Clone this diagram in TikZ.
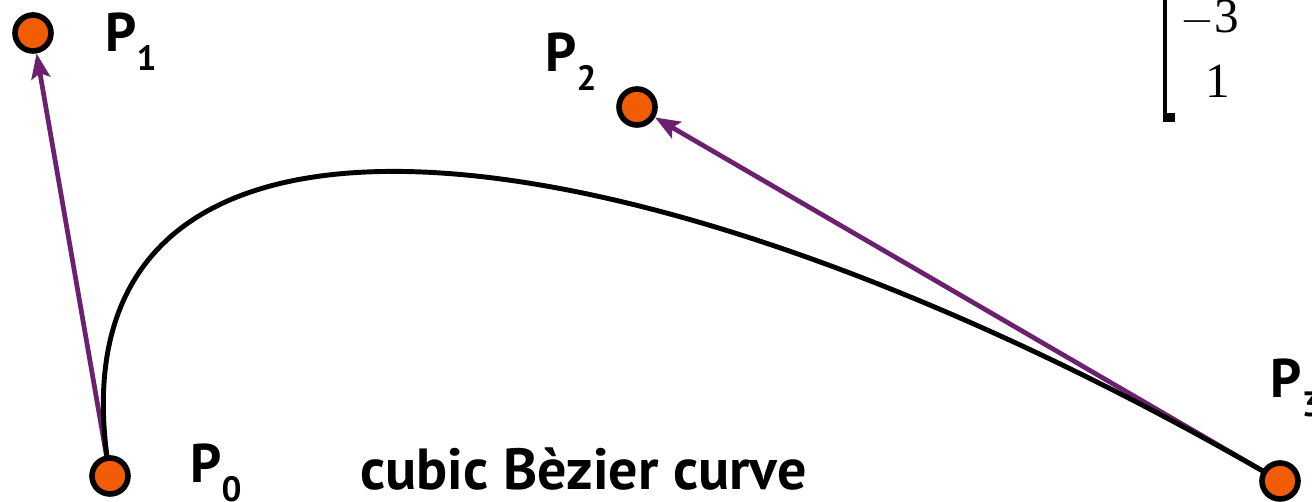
\documentclass[tikz,border=0pt]{standalone}
\usepackage{fontspec}
\setmainfont{PT Sans}
\newfontfamily\matfont{Liberation Serif}
\definecolor{PointOrange}{HTML}{F25C05}
\definecolor{TangentPurple}{HTML}{6B2070}
\usetikzlibrary{arrows.meta,positioning,backgrounds}
\tikzset{
  ctrlpoint/.style={circle, draw=black, line width=3.2pt, fill=PointOrange, minimum size=0.72cm, inner sep=0pt},
  ptlabel/.style={anchor=base west, inner sep=0pt, font=\fontsize{31}{31}\selectfont\bfseries},
  tangent/.style={-{Stealth[length=5mm,width=3.8mm,inset=1mm]}, line width=2.7pt, draw=TangentPurple},
  curveline/.style={line width=2.8pt, draw=black},
  captiontext/.style={anchor=base west, inner sep=0pt, font=\fontsize{33}{33}\selectfont\bfseries},
  mattext/.style={anchor=base west, inner sep=0pt, font=\matfont\fontsize{28}{28}\selectfont}
}
\newcommand{\ptname}[1]{P\raisebox{-0.34em}{\fontsize{20}{20}\selectfont #1}}

\begin{document}
\begin{tikzpicture}[x=0.02cm, y=-0.02cm]
\useasboundingbox (0,0) rectangle (1312,502);

\node[ctrlpoint] (p0) at (110,476) {};
\node[ctrlpoint] (p1) at (33,33) {};
\node[ctrlpoint] (p2) at (637,107) {};
\node[ctrlpoint] (p3) at (1280,481) {};

\node[ptlabel] (l0) at (190,483) {\ptname{0}};
\node[ptlabel] (l1) at (105,52) {\ptname{1}};
\node[ptlabel] (l2) at (545,72) {\ptname{2}};
\node[ptlabel] (l3) at (1270,398) {\ptname{3}};

\node[captiontext] (caption) at (360,490) {cubic Bèzier curve};

\begin{scope}[on background layer]
  \draw[tangent] (p0.center) -- (p1);
  \draw[tangent] (p3.center) -- (p2);
  \draw[curveline] (p0.center) .. controls (p1.center) and (p2.center) .. (p3.center);
\end{scope}

% matrix fragment
\draw[line width=0.08cm] (1165,-5) -- (1165,120);
\fill (1163,113) rectangle (1175,122);
\node[mattext] (m3) at (1180,33) {$-$3};
\node[mattext] (m1) at (1205,98) {1};
\end{tikzpicture}
\end{document}
